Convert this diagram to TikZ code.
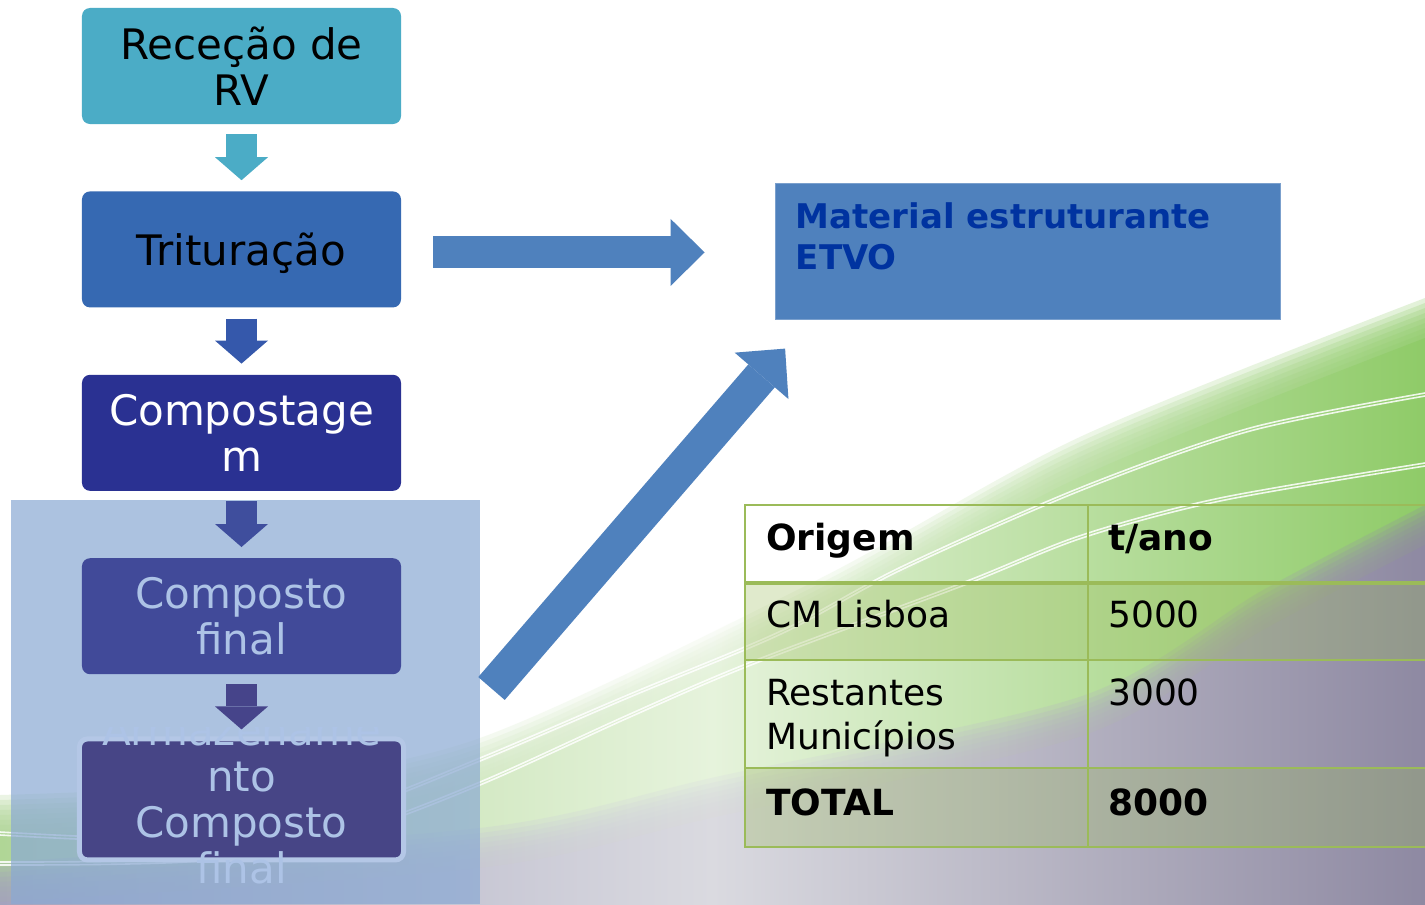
\documentclass[tikz,border=0pt]{standalone}
\usepackage{fontspec}
\setmainfont{DejaVu Sans}
\usetikzlibrary{positioning,arrows.meta,calc}
\definecolor{recblue}{HTML}{4BACC6}
\definecolor{tritblue}{HTML}{3669B2}
\definecolor{tritarrow}{HTML}{3558AB}
\definecolor{compblue}{HTML}{2A3192}
\definecolor{comparrow}{HTML}{3F4E9D}
\definecolor{finalblue}{HTML}{414A99}
\definecolor{finalarrow}{HTML}{46448A}
\definecolor{storeblue}{HTML}{474586}
\definecolor{paleblue}{HTML}{8AA9D3}
\definecolor{paleedge}{HTML}{B4C7E6}
\definecolor{paletext}{HTML}{ADC3E6}
\definecolor{etvoblue}{HTML}{4F81BD}
\definecolor{etvotext}{HTML}{0033A0}
\definecolor{tablegreen}{HTML}{9BBB59}
\definecolor{swooshleft}{HTML}{B0D696}
\definecolor{swooshmid}{HTML}{E6F3DC}
\definecolor{swooshright}{HTML}{8FCB68}
\definecolor{greyleft}{HTML}{A4A3BE}
\definecolor{greymid}{HTML}{DADAE0}
\definecolor{greyright}{HTML}{8E89A2}
\newcommand{\boxfont}{\fontsize{42bp}{46bp}\selectfont}
\newcommand{\cellfont}{\fontsize{36bp}{44bp}\selectfont}
\newcommand{\etvofont}{\fontsize{34bp}{41bp}\selectfont\bfseries}
\begin{document}
\begin{tikzpicture}[x=1bp, y=-1bp,
    stepbox/.style={rounded corners=8bp, minimum width=319bp, minimum height=116bp, inner sep=0pt, align=center, font=\boxfont},
    downarrow/.style={line width=31bp, -{Triangle[length=23bp, width=53bp, line width=0pt]}},
    bigarrow/.style={draw=etvoblue, line width=32bp, -{Triangle[length=34bp, width=67bp, line width=0pt]}},
    risearrow/.style={draw=etvoblue, line width=35bp, -{Triangle[length=36bp, width=71bp, line width=0pt]}},
    etvobox/.style={fill=etvoblue, draw=etvoblue!75!white, line width=0.8bp, minimum width=505bp, minimum height=136bp, inner sep=0pt},
    cell/.style={anchor=base west, inner sep=0pt, font=\cellfont, text width=300bp, align=left},
    greenband/.style={left color=swooshleft, right color=swooshright, middle color=swooshmid},
    greyband/.style={left color=greyleft, right color=greyright, middle color=greymid},
    swoosh/.style={draw=white, line width=1.6bp, opacity=0.85}]
    \useasboundingbox (0,0) rectangle (1425,904);
    \begin{scope}
        \clip (0,0) rectangle (1425,904);
        \fill[white] (0,0) rectangle (1425,904);
        \foreach \k in {0,...,7}
            \shade[greenband, yshift={-\k*5bp}, opacity=0.25]
                plot[smooth] coordinates {(0,795) (250,782) (480,738) (817,580) (1082,436) (1425,298)} -- (1425,1000) -- (0,1000) -- cycle;
        \shade[greenband, yshift=-40bp]
            plot[smooth] coordinates {(0,795) (250,782) (480,738) (817,580) (1082,436) (1425,298)} -- (1425,1000) -- (0,1000) -- cycle;
        \foreach \k in {0,...,7}
            \shade[greyband, yshift={-\k*5bp}, opacity=0.25]
                plot[smooth] coordinates {(0,862) (480,828) (720,776) (1082,696) (1263,590) (1425,505)} -- (1425,1000) -- (0,1000) -- cycle;
        \shade[greyband, yshift=-40bp]
            plot[smooth] coordinates {(0,862) (480,828) (720,776) (1082,696) (1263,590) (1425,505)} -- (1425,1000) -- (0,1000) -- cycle;
        \foreach \d in {0,3} {
            \draw[swoosh, yshift={-\d bp}] plot[smooth] coordinates {(0,832) (200,838) (350,808) (480,758) (630,694) (781,631) (901,567) (1082,487) (1250,428) (1425,393)};
            \draw[swoosh, yshift={-\d bp}] plot[smooth] coordinates {(0,862) (200,858) (350,830) (480,782) (630,714) (751,662) (962,583) (1082,535) (1220,498) (1425,463)};
        }
        \fill[paleblue, opacity=0.7] (11,500) rectangle (480,904);
    \end{scope}

    \node[stepbox, fill=recblue] (rec) at (241.5,66) {Receção de\\RV};
    \node[stepbox, fill=tritblue, text depth=0pt, below=67bp of rec] (tri) {Trituração};
    \node[stepbox, fill=compblue, text=white, below=67bp of tri] (comp) {Compostage\\m};
    \node[stepbox, fill=finalblue, text=paletext, below=67bp of comp] (fin) {Composto\\final};
    \node[stepbox, fill=storeblue, draw=paleedge, line width=5bp, minimum width=324bp, minimum height=121bp, below=62bp of fin] (arm) {};
    \begin{scope}
        \clip (0,727) rectangle (480,904);
        \node[font=\boxfont, text=paletext, align=center, inner sep=0pt] (armtext) at (arm.center) {Armazename\\nto\\Composto\\final};
    \end{scope}

    \draw[downarrow, recblue] ([yshift=-10bp]rec.south) -- ([yshift=11bp]tri.north);
    \draw[downarrow, tritarrow] ([yshift=-11bp]tri.south) -- ([yshift=11bp]comp.north);
    \draw[downarrow, comparrow] ([yshift=-10bp]comp.south) -- ([yshift=11bp]fin.north);
    \draw[downarrow, finalarrow] ([yshift=-10bp]fin.south) -- ([yshift=7bp]arm.north);

    \node[etvobox] (mat) at (1027.5,251.5) {};
    \node[anchor=north west, inner sep=0pt, font=\etvofont, text=etvotext, align=left] (etvo) at ($(mat.north west)+(21,19)$) {Material estruturante\\ETVO};

    \draw[bigarrow] ($(tri.east)+(32,3)$) -- ($(tri.east -| mat.west)+(-70,3)$);
    \coordinate (rise) at (491.5,688.5);
    \draw[risearrow] (rise) -- ($(mat.south west)+(10.5,28.7)$);

    \foreach \top/\bot in {583/660,768/847}
        \fill[tablegreen, opacity=0.3] (745,\top) rectangle (1430,\bot);
    \draw[tablegreen, line width=2.5bp] (1430,505) -- (745,505) -- (745,847) -- (1430,847);
    \draw[tablegreen, line width=4.5bp] (745,583) -- (1430,583);
    \foreach \y in {660,768}
        \draw[tablegreen, line width=2.5bp] (745,\y) -- (1430,\y);
    \draw[tablegreen, line width=2.5bp] (1088,505) -- (1088,847);

    \node[cell] (orig) at (766,550) {\bfseries Origem};
    \node[cell] (tano) at (1108,550) {\bfseries t/ano};
    \node[cell] (lisboa) at (766,627) {CM Lisboa};
    \node[cell] (lisboaval) at (1108,627) {5000};
    \node[cell] (rest) at (766,705) {Restantes\\Municípios};
    \node[cell] (restval) at (1108,705) {3000};
    \node[cell] (total) at (766,815) {\bfseries TOTAL};
    \node[cell] (totalval) at (1108,815) {\bfseries 8000};
\end{tikzpicture}
\end{document}
